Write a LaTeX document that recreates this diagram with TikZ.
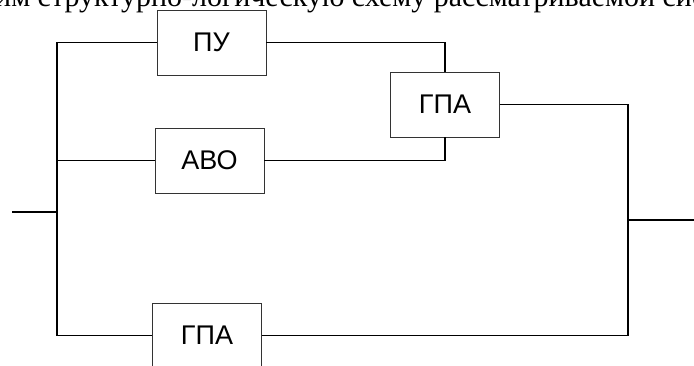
\documentclass[tikz,border=0pt]{standalone}
\usepackage{fontspec}
\setmainfont{Liberation Serif}
\newfontfamily\blkfont{Liberation Sans}
\usetikzlibrary{positioning}

\begin{document}
\begin{tikzpicture}[x=1pt,y=1pt,blk/.style={draw=black!80, line width=0.8pt, minimum width=109pt, minimum height=65pt, inner sep=0pt, font=\blkfont\fontsize{27}{29}\selectfont},wire/.style={line width=1.7pt, line join=miter}]
    \useasboundingbox (0,0) rectangle (694,365);
    \clip (0,0) rectangle (694,365);
    % heading line, cut by the page
    \node [anchor=base west, inner sep=0pt, font=\fontsize{30}{32}\selectfont] (hdr) at (-5,358) {им структурно-логическую схему рассматриваемой системы};
    % blocks
    \node [blk] (pu)   at (211.5,322.5) {ПУ};
    \node [blk] (avo)  at (209.5,204.5) {АВО};
    \node [blk] (gpa1) at (445,260.5)   {ГПА};
    \node [blk] (gpa2) at (207,29.5)    {ГПА};
    \coordinate (in)   at (12,153);
    \coordinate (out)  at (694,145);
    \coordinate (lbot) at (57,29.5);
    \coordinate (rbot) at (628,29.5);
    % connections
    \draw [wire] (pu.west) -| (lbot) -- (gpa2.west);
    \draw [wire] (avo.west) -- (avo.west -| lbot);
    \draw [wire] (in) -- (in -| lbot);
    \draw [wire] (pu.east) -| (gpa1.north);
    \draw [wire] (avo.east) -| (gpa1.south);
    \draw [wire] (gpa1.east) -| (rbot) -- (gpa2.east);
    \draw [wire] (out) -- (out -| rbot);
\end{tikzpicture}
\end{document}
